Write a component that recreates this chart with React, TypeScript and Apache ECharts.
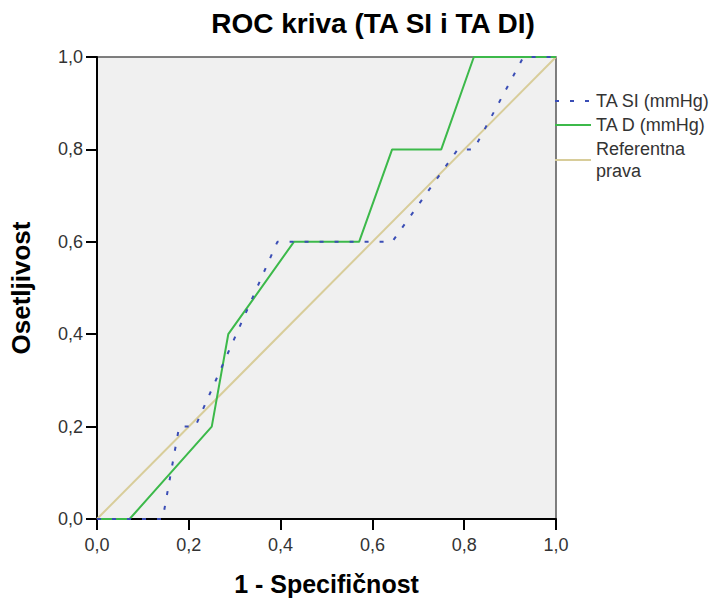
import React, { useEffect, useRef } from "react";
import * as echarts from "echarts";

const titleText = "ROC kriva (TA SI i TA DI)";
const xName = "1 - Specifičnost";
const yName = "Osetljivost";
const seriesNames = ["TA SI (mmHg)", "TA D (mmHg)", "Referentna\nprava"];

const taSiX = [0, 0.143, 0.179, 0.214, 0.393, 0.643, 0.786, 0.821, 0.929, 1];
const taSiY = [0, 0, 0.2, 0.2, 0.6, 0.6, 0.8, 0.8, 1, 1];
const taDX = [0, 0.071, 0.25, 0.286, 0.429, 0.571, 0.643, 0.75, 0.821, 1];
const taDY = [0, 0, 0.2, 0.4, 0.6, 0.6, 0.8, 0.8, 1, 1];
const refX = [0, 1];
const refY = [0, 1];

const zip = (xs: number[], ys: number[]) => xs.map((x, i) => [x, ys[i]]);
const fmt = (v: number) => v.toFixed(1).replace(".", ",");

export default function App() {
  const ref = useRef<HTMLDivElement>(null);
  useEffect(() => {
    if (!ref.current) return;
    const chart = echarts.init(ref.current, null, { renderer: "svg" });
    const font = "Liberation Sans, Arial, sans-serif";
    const axisCommon = {
      type: "value" as const,
      min: 0,
      max: 1,
      interval: 0.2,
      nameLocation: "middle" as const,
      axisLine: { show: true, lineStyle: { color: "#000", width: 2 } },
      axisTick: { show: true, inside: false, length: 11, lineStyle: { color: "#000", width: 2 } },
      axisLabel: { fontFamily: font, fontSize: 18, color: "#333", formatter: fmt },
      splitLine: { show: false },
    };
    chart.setOption({
      animation: false,
      backgroundColor: "#fff",
      title: {
        text: titleText,
        left: 368,
        top: 4,
        textAlign: "center",
        textStyle: { fontFamily: font, fontSize: 28, fontWeight: "bold", color: "#000" },
      },
      grid: {
        left: 94,
        right: 157,
        top: 57,
        bottom: 82,
        show: true,
        backgroundColor: "#f0f0f0",
        borderColor: "#555",
        borderWidth: 1.5,
      },
      legend: {
        orient: "vertical",
        left: 549,
        top: 85,
        itemWidth: 36,
        itemHeight: 14,
        itemGap: 2,
        itemStyle: { opacity: 0 },
        textStyle: { fontFamily: font, fontSize: 18, color: "#333", lineHeight: 22 },
        data: seriesNames,
      },
      xAxis: {
        ...axisCommon,
        name: xName,
        nameGap: 52,
        nameTextStyle: { fontFamily: font, fontSize: 25, fontWeight: "bold", color: "#000" },
        axisLabel: { ...axisCommon.axisLabel, margin: 17 },
      },
      yAxis: {
        ...axisCommon,
        name: yName,
        nameGap: 63,
        nameTextStyle: { fontFamily: font, fontSize: 26, fontWeight: "bold", color: "#000" },
        axisLabel: { ...axisCommon.axisLabel, margin: 14 },
      },
      series: [
        {
          name: seriesNames[0],
          type: "line",
          data: zip(taSiX, taSiY),
          symbol: "none",
          z: 4,
          lineStyle: { color: "#3a4db5", width: 2, type: [4, 11] },
          itemStyle: { color: "#3a4db5" },
        },
        {
          name: seriesNames[1],
          type: "line",
          data: zip(taDX, taDY),
          symbol: "none",
          z: 3,
          lineStyle: { color: "#3cb94a", width: 2 },
          itemStyle: { color: "#3cb94a" },
        },
        {
          name: seriesNames[2],
          type: "line",
          data: zip(refX, refY),
          symbol: "none",
          z: 2,
          lineStyle: { color: "#d8cd9a", width: 2 },
          itemStyle: { color: "#d8cd9a" },
        },
      ],
    });
    return () => chart.dispose();
  }, []);
  return <div ref={ref} style={{ width: 713, height: 601, position: "absolute", left: 0, top: 0 }} />;
}
